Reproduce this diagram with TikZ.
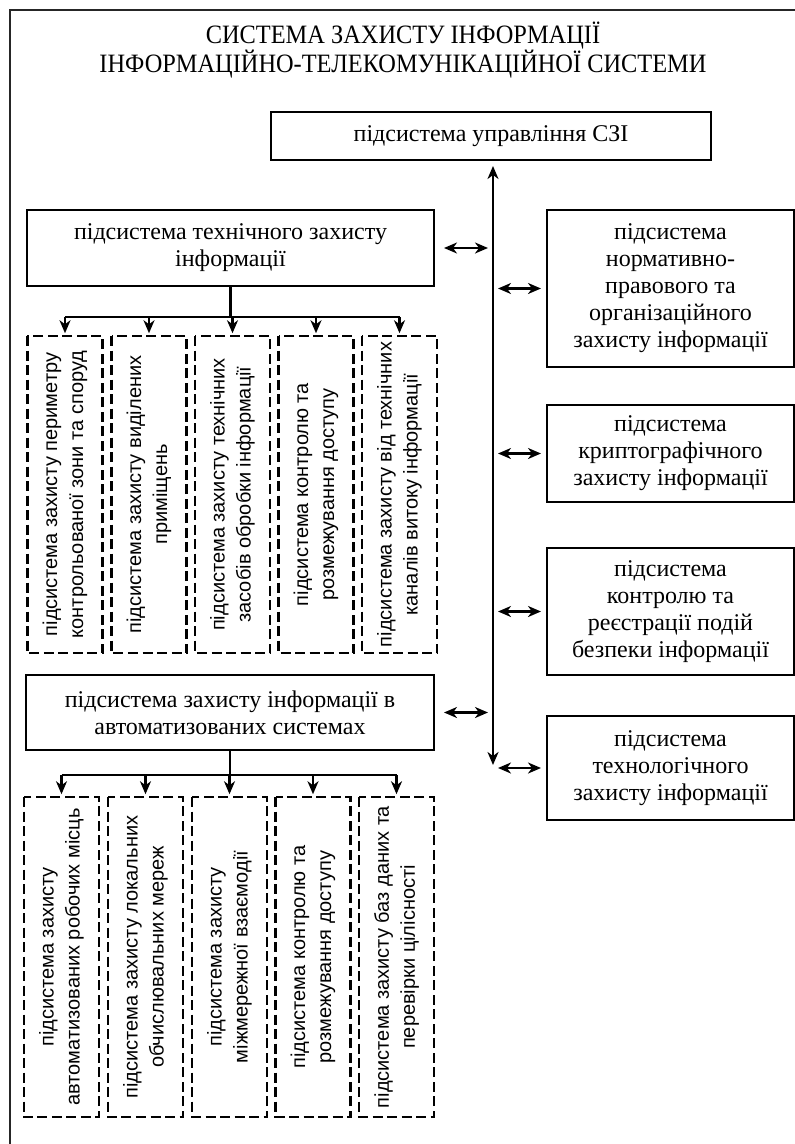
\documentclass[tikz,border=0pt]{standalone}
\usepackage{fontspec}
\setmainfont{Liberation Serif}
\setsansfont{Liberation Sans}
\newfontfamily\headfont{Liberation Serif}[FakeStretch=0.92]
\usetikzlibrary{arrows.meta}

\begin{document}
\begin{tikzpicture}[x=1bp,y=1bp,
  box/.style={draw, line width=2bp, align=center, inner sep=0pt,
    font=\fontsize{24bp}{27bp}\selectfont},
  subbox/.style={draw, dash pattern=on 10bp off 4.5bp, line width=2.5bp,
    rotate=90, align=center, inner sep=0pt, minimum height=75bp,
    font=\sffamily\fontsize{20bp}{26bp}\selectfont},
  tip/.tip={Stealth[length=13bp,width=11bp,inset=4bp]},
  link/.style={line width=2.2bp, -tip},
  busline/.style={line width=2.2bp},
  dbl/.style={line width=2.2bp, tip-tip}
]
\useasboundingbox (0,0) rectangle (795,-1144);

% outer frame (top and left edges)
\draw[line width=1.4bp, black!85] (10,-1144) -- (10,-10) -- (795,-10);

% heading
\node[align=center, font=\headfont\fontsize{26.5bp}{21bp}\selectfont] (title) at (403,-50)
  {СИСТЕМА ЗАХИСТУ ІНФОРМАЦІЇ\\ІНФОРМАЦІЙНО-ТЕЛЕКОМУНІКАЦІЙНОЇ СИСТЕМИ};

% management subsystem and spine
\node[box, minimum width=440bp, minimum height=48bp] (mgmt) at (491,-136)
  {підсистема управління СЗІ};
\coordinate (spine) at (493,-765);

% left-hand subsystems
\node[box, minimum width=407bp, minimum height=76bp] (tech) at (230.5,-248)
  {підсистема технічного захисту\\інформації};
\node[box, minimum width=408bp, minimum height=75bp] (auto) at (230,-712.5)
  {підсистема захисту інформації в\\автоматизованих системах};

% right-hand subsystems
\node[box, minimum width=247bp, minimum height=157bp] (norm) at (670.5,-288.5)
  {підсистема\\нормативно-\\правового та\\організаційного\\захисту інформації};
\node[box, minimum width=247bp, minimum height=97bp] (crypt) at (670.5,-453.5)
  {підсистема\\криптографічного\\захисту інформації};
\node[box, minimum width=247bp, minimum height=127bp] (ctrl) at (670.5,-611.5)
  {підсистема\\контролю та\\реєстрації подій\\безпеки інформації};
\node[box, minimum width=247bp, minimum height=104bp] (techn) at (670.5,-768)
  {підсистема\\технологічного\\захисту інформації};

% technical protection components
\foreach \n/\x/\t in {
  t1/65/{підсистема захисту периметру\\контрольованої зони та споруд},
  t2/149/{підсистема захисту виділених\\приміщень},
  t3/232.5/{підсистема захисту технічних\\засобів обробки інформації},
  t4/316/{підсистема контролю та\\розмежування доступу},
  t5/399.5/{підсистема захисту від технічних\\каналів витоку інформації}}
  \node[subbox, minimum width=317bp] (\n) at (\x,-494.5) {\t};

% automated systems components
\foreach \n/\x/\t in {
  a1/61.5/{підсистема захисту\\автоматизованих робочих місць},
  a2/145.5/{підсистема захисту локальних\\обчислювальних мереж},
  a3/229.5/{підсистема захисту\\міжмережної взаємодії},
  a4/313/{підсистема контролю та\\розмежування доступу},
  a5/396.5/{підсистема захисту баз даних та\\перевірки цілісності}}
  \node[subbox, minimum width=320bp] (\n) at (\x,-957) {\t};

% spine with arrows to the management box and downward
\draw[dbl, shorten >=5bp] (spine) -- (spine |- mgmt.south);

% links between the spine and the subsystems
\draw[dbl, shorten <=9bp, shorten >=5bp] (tech.east) -- (tech.east -| spine);
\draw[dbl, shorten <=9bp, shorten >=5bp] (auto.east) -- (auto.east -| spine);
\foreach \b in {norm,crypt,ctrl,techn}
  \draw[dbl, shorten <=5bp, shorten >=5bp] (\b.west -| spine) -- (\b.west);

% technical protection distribution bus
\coordinate (tbus) at (0,-317);
\draw[busline] (tech.south) -- (tech.south |- tbus);
\draw[busline] (t1.east |- tbus) -- (t5.east |- tbus);
\foreach \n in {t1,t2,t3,t4,t5}
  \draw[link, shorten >=1.5bp] (\n.east |- tbus) -- (\n.east);

% automated systems distribution bus
\coordinate (abus) at (0,-775);
\draw[busline] (auto.south) -- (auto.south |- abus);
\draw[busline] (a1.east |- abus) -- (a5.east |- abus);
\foreach \n in {a1,a2,a3,a4,a5}
  \draw[link, shorten >=1.5bp] (\n.east |- abus) -- (\n.east);
\end{tikzpicture}
\end{document}
